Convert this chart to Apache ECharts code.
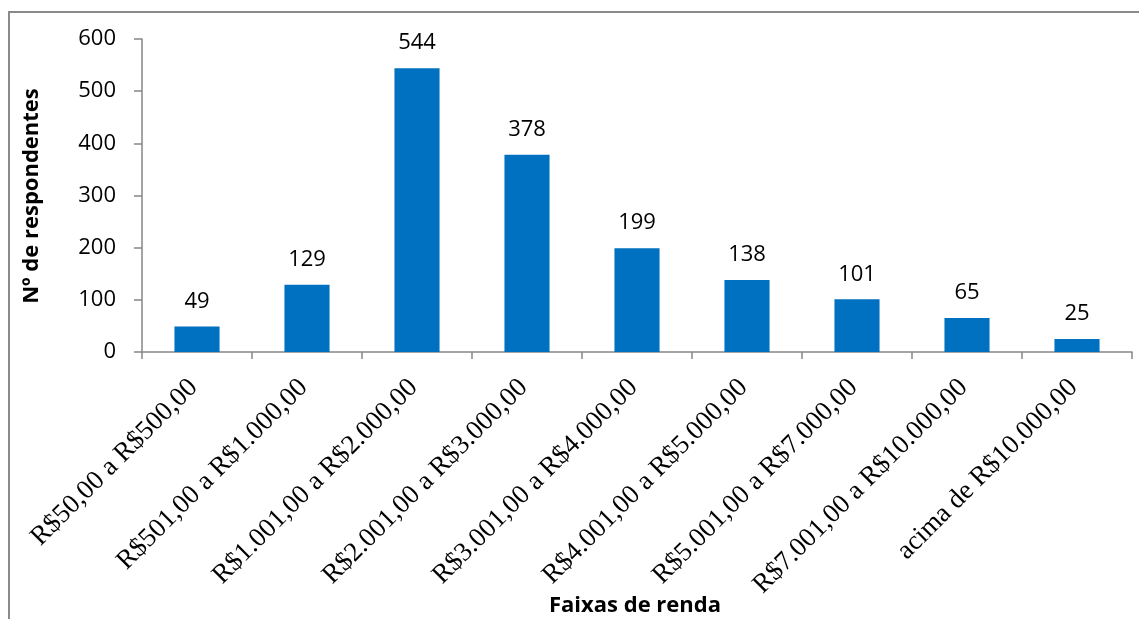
<!DOCTYPE html>
<html>
<head>
<meta charset="utf-8">
<script src="https://cdn.jsdelivr.net/npm/echarts@6/dist/echarts.min.js"></script>
<style>html,body{margin:0;padding:0;background:#fff}#c{width:1139px;height:619px}</style>
</head>
<body>
<div id="c"></div>
<script>
var categories = ["R$50,00 a R$500,00","R$501,00 a R$1.000,00","R$1.001,00 a R$2.000,00","R$2.001,00 a R$3.000,00","R$3.001,00 a R$4.000,00","R$4.001,00 a R$5.000,00","R$5.001,00 a R$7.000,00","R$7.001,00 a R$10.000,00","acima de R$10.000,00"];
var values = [49,129,544,378,199,138,101,65,25];
var yTitle = "Nº de respondentes";
var xTitle = "Faixas de renda";

var chart = echarts.init(document.getElementById('c'));
chart.setOption({
  animation: false,
  backgroundColor: '#fff',
  grid: {left: 142, top: 39, right: 7, bottom: 267, containLabel: false},
  graphic: [
    {type: 'rect', shape: {x: 9, y: 12, width: 1300, height: 800}, style: {fill: 'none', stroke: '#8a8a8a', lineWidth: 2}, z: 100},
    {type: 'text', x: 32, y: 196, rotation: Math.PI/2, style: {text: yTitle, font: 'bold 22px "Open Sans"', fill: '#000', textAlign: 'center', textVerticalAlign: 'middle'}},
    {type: 'text', x: 635, y: 606, style: {text: xTitle, font: 'bold 22px "Open Sans"', fill: '#000', textAlign: 'center', textVerticalAlign: 'middle'}}
  ],
  xAxis: {
    type: 'category',
    data: categories,
    boundaryGap: true,
    axisLine: {lineStyle: {color: '#868686', width: 1.5}},
    axisTick: {show: true, interval: 0, length: 7, lineStyle: {color: '#868686', width: 1.5}},
    axisLabel: {interval: 0, rotate: 45, margin: 28, padding: [0, 5, 0, 0], color: '#000', fontFamily: '"Liberation Serif", "DejaVu Serif", serif', fontSize: 27}
  },
  yAxis: {
    type: 'value',
    min: 0, max: 600, interval: 100,
    axisLine: {show: true, lineStyle: {color: '#868686', width: 1.5}},
    axisTick: {show: true, length: 8, lineStyle: {color: '#868686', width: 1.5}},
    splitLine: {show: false},
    axisLabel: {color: '#000', fontFamily: '"Open Sans", sans-serif', fontSize: 22, margin: 26}
  },
  series: [{
    type: 'bar',
    data: values,
    barWidth: '41%',
    itemStyle: {color: '#0070C0'},
    label: {show: true, position: 'top', distance: 14, color: '#000', fontFamily: '"Open Sans", sans-serif', fontSize: 22}
  }]
});
</script>
</body>
</html>
